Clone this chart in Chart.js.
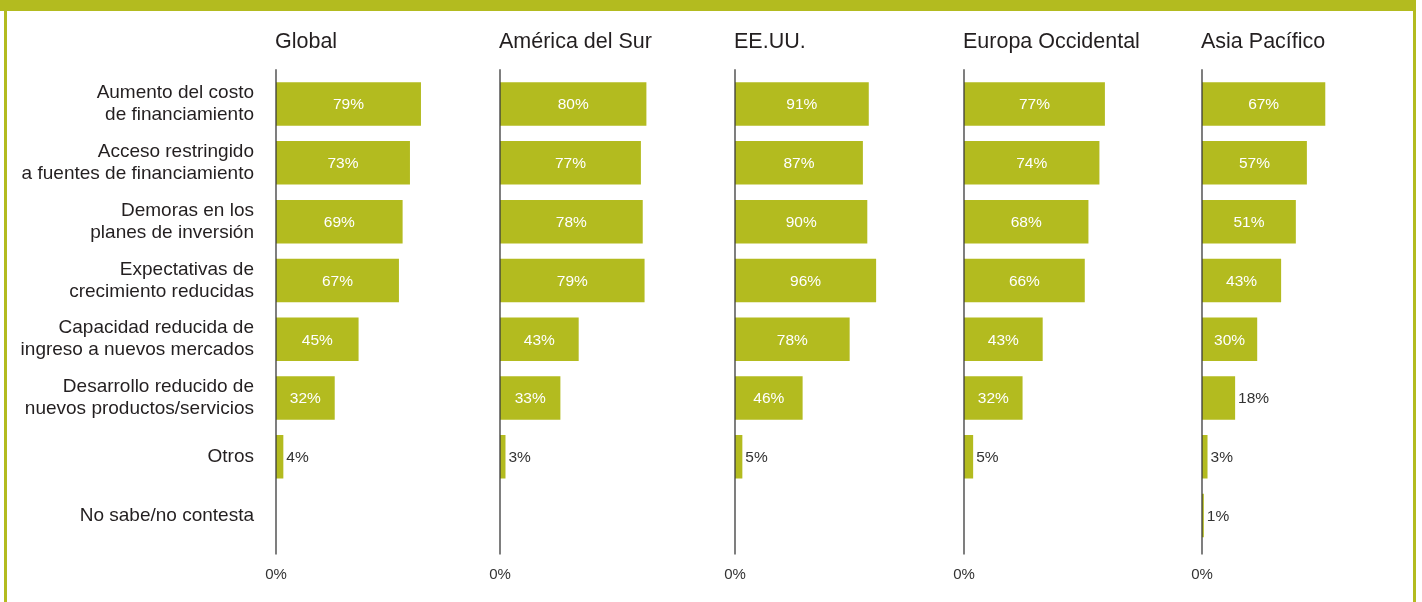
<!DOCTYPE html>
<html>
<head>
<meta charset="utf-8">
<script src="https://cdn.jsdelivr.net/npm/chart.js@4.4.1/dist/chart.umd.min.js"></script>
<style>
  body { margin: 0; background: #fff; }
  #wrap { position: relative; width: 1422px; height: 602px; overflow: hidden; background: #fff; }
  .band { position: absolute; left: 0; top: 0; width: 1416px; height: 11px; background: #b3bb1f; z-index: 2; }
  .side { position: absolute; top: 0; width: 3px; height: 602px; background: #b3bb1f; z-index: 2; }
  .panel { position: absolute; top: 0; height: 605px; }
</style>
</head>
<body>
<div id="wrap">
  <div class="band"></div>
  <div class="side" style="left:4px"></div>
  <div class="side" style="left:1413px"></div>
</div>
<script>
// categorias (eje y)
const categories = [
  ['Aumento del costo', 'de financiamiento'],
  ['Acceso restringido', 'a fuentes de financiamiento'],
  ['Demoras en los', 'planes de inversión'],
  ['Expectativas de', 'crecimiento reducidas'],
  ['Capacidad reducida de', 'ingreso a nuevos mercados'],
  ['Desarrollo reducido de', 'nuevos productos/servicios'],
  'Otros',
  'No sabe/no contesta'
];

const regions = ['Global', 'América del Sur', 'EE.UU.', 'Europa Occidental', 'Asia Pacífico'];

// % por region, mismo orden que categories (null = sin dato)
const globalValues   = [79, 73, 69, 67, 45, 32, 4, null];
const sudamerica     = [80, 77, 78, 79, 43, 33, 3, null];
const eeuu           = [91, 87, 90, 96, 78, 46, 5, null];
const europaOcc      = [77, 74, 68, 66, 43, 32, 5, null];
const asiaPacifico   = [67, 57, 51, 43, 30, 18, 3, 1];

const xTicks = [0];

const seriesList = [globalValues, sudamerica, eeuu, europaOcc, asiaPacifico];

// layout of the panels
const axisX = [276, 500, 735, 964, 1202];
const pxPerPct = [1.835, 1.83, 1.47, 1.83, 1.84];

const GREEN = '#b3bb1f';
const DARK = '#231f20';
const FONT = "'Liberation Sans', Arial, Helvetica, sans-serif";

const panelPlugin = {
  id: 'panelPlugin',
  afterDatasetsDraw(chart, args, opts) {
    const ctx = chart.ctx;
    const area = chart.chartArea;
    // zero line
    ctx.save();
    ctx.strokeStyle = '#3a3a3a';
    ctx.lineWidth = 1.3;
    ctx.beginPath();
    ctx.moveTo(area.left, area.top - 5.5);
    ctx.lineTo(area.left, area.bottom + 9.5);
    ctx.stroke();

    // panel title
    ctx.fillStyle = DARK;
    ctx.font = '21.5px ' + FONT;
    ctx.textAlign = 'left';
    ctx.textBaseline = 'middle';
    ctx.fillText(opts.title, area.left - 1, 42);

    // value labels
    const meta = chart.getDatasetMeta(0);
    const vals = chart.data.datasets[0].data;
    ctx.font = '15.5px ' + FONT;
    meta.data.forEach((bar, i) => {
      const v = vals[i];
      if (v === null || v === undefined) return;
      const w = bar.x - bar.base;
      if (w >= 45) {
        ctx.fillStyle = '#ffffff';
        ctx.textAlign = 'center';
        ctx.fillText(v + '%', (bar.x + bar.base) / 2, bar.y + 1);
      } else {
        ctx.fillStyle = '#333333';
        ctx.textAlign = 'left';
        ctx.fillText(v + '%', bar.x + 3, bar.y + 1);
      }
    });
    ctx.restore();
  }
};

const wrap = document.getElementById('wrap');

regions.forEach((name, idx) => {
  const first = idx === 0;
  // hidden axis must be wider than the x tick overflow (half label + padding)
  const yWidth = first ? 266 : 40;
  const left = axisX[idx] - yWidth;
  const plotW = 100 * pxPerPct[idx];
  const w = Math.round(yWidth + plotW + 50);

  const div = document.createElement('div');
  div.className = 'panel';
  div.style.left = left + 'px';
  div.style.width = w + 'px';
  const cv = document.createElement('canvas');
  cv.width = w;
  cv.height = 605;
  div.appendChild(cv);
  wrap.appendChild(div);

  new Chart(cv, {
    type: 'bar',
    data: {
      labels: categories,
      datasets: [{
        data: seriesList[idx],
        backgroundColor: GREEN,
        borderWidth: 0,
        categoryPercentage: 1,
        barPercentage: 0.74
      }]
    },
    options: {
      indexAxis: 'y',
      responsive: false,
      animation: false,
      devicePixelRatio: 1,
      layout: { padding: { top: 74.65, bottom: 0, left: 0, right: w - yWidth - plotW } },
      plugins: {
        legend: { display: false },
        tooltip: { enabled: false },
        panelPlugin: { title: name }
      },
      scales: {
        x: {
          min: 0,
          max: 100,
          grid: { display: false, drawTicks: false },
          border: { display: false },
          afterBuildTicks: (s) => { s.ticks = xTicks.map(v => ({ value: v })); },
          ticks: {
            padding: 21,
            color: '#333',
            font: { family: FONT, size: 15 },
            callback: (v) => v + '%'
          }
        },
        y: {
          grid: { display: false, drawTicks: false },
          border: { display: false },
          afterFit: (s) => { s.width = yWidth; },
          ticks: {
            display: first,
            autoSkip: false,
            padding: 22,
            color: DARK,
            font: { family: FONT, size: 19, lineHeight: 1.16 }
          }
        }
      }
    },
    plugins: [panelPlugin]
  });
});
</script>
</body>
</html>
